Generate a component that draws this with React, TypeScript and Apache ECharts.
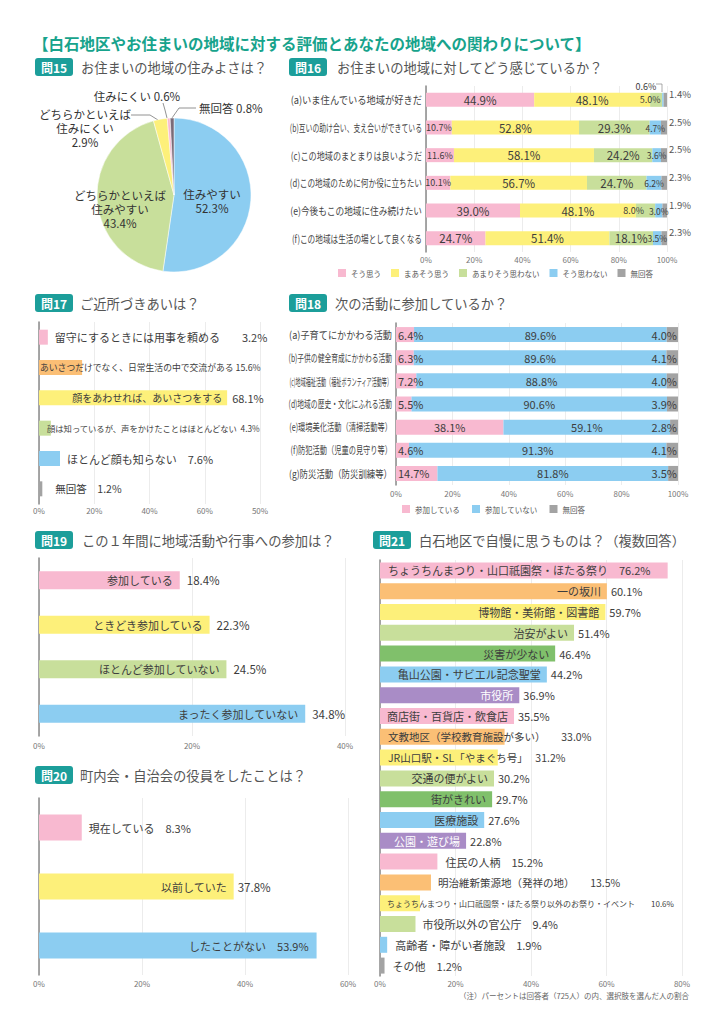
import React, { useEffect, useRef } from "react";
import * as echarts from "echarts";

const FONT = '"Noto Sans CJK JP", "Noto Sans", sans-serif';
const TXT = "#3d3d3d";
const PINK = "#f8b9d0";
const YELLOW = "#fdf07a";
const LGREEN = "#c8df9b";
const BLUE = "#8ccdf1";
const GRAY = "#a3a3a3";
const ORANGE = "#fbbf75";
const GREEN = "#80c06b";
const PURPLE = "#a98cc6";
const DGRAY = "#7a6b78";

// ---------- Q15 ----------
const q15Names = ["住みやすい", "どちらかといえば\n住みやすい", "どちらかといえば\n住みにくい", "住みにくい", "無回答"];
const q15Values = [52.3, 43.4, 2.9, 0.6, 0.8];
const q15Colors = [BLUE, LGREEN, YELLOW, PINK, DGRAY];

// ---------- Q16 ----------
const q16Categories = [
  "(a)いま住んでいる地域が好きだ",
  "(b)互いの助け合い、支え合いができている",
  "(c)この地域のまとまりは良いようだ",
  "(d)この地域のために何か役に立ちたい",
  "(e)今後もこの地域に住み続けたい",
  "(f)この地域は生活の場として良くなる",
];
const q16SeriesNames = ["そう思う", "まあそう思う", "あまりそう思わない", "そう思わない", "無回答"];
const q16Agree = [44.9, 10.7, 11.6, 10.1, 39.0, 24.7];
const q16SomewhatAgree = [48.1, 52.8, 58.1, 56.7, 48.1, 51.4];
const q16SomewhatDisagree = [5.0, 29.3, 24.2, 24.7, 8.0, 18.1];
const q16Disagree = [0.6, 4.7, 3.6, 6.2, 3.0, 3.5];
const q16NoAnswer = [1.4, 2.5, 2.5, 2.3, 1.9, 2.3];

// ---------- Q17 ----------
const q17Categories = [
  "留守にするときには用事を頼める",
  "あいさつだけでなく、日常生活の中で交流がある",
  "顔をあわせれば、あいさつをする",
  "顔は知っているが、声をかけたことはほとんどない",
  "ほとんど顔も知らない",
  "無回答",
];
const q17Values = [3.2, 15.6, 68.1, 4.3, 7.6, 1.2];
const q17Colors = [PINK, ORANGE, YELLOW, LGREEN, BLUE, GRAY];
const q17TickLabels = ["0%", "20%", "40%", "60%", "50%"];

// ---------- Q18 ----------
const q18Categories = [
  "(a)子育てにかかわる活動",
  "(b)子供の健全育成にかかわる活動",
  "(c)地域福祉活動（福祉ボランティア活動等）",
  "(d)地域の歴史・文化にふれる活動",
  "(e)環境美化活動（清掃活動等）",
  "(f)防犯活動（児童の見守り等）",
  "(g)防災活動（防災訓練等）",
];
const q18SeriesNames = ["参加している", "参加していない", "無回答"];
const q18Yes = [6.4, 6.3, 7.2, 5.5, 38.1, 4.6, 14.7];
const q18No = [89.6, 89.6, 88.8, 90.6, 59.1, 91.3, 81.8];
const q18NoAnswer = [4.0, 4.1, 4.0, 3.9, 2.8, 4.1, 3.5];

// ---------- Q19 ----------
const q19Categories = ["参加している", "ときどき参加している", "ほとんど参加していない", "まったく参加していない"];
const q19Values = [18.4, 22.3, 24.5, 34.8];
const q19Colors = [PINK, YELLOW, LGREEN, BLUE];

// ---------- Q20 ----------
const q20Categories = ["現在している", "以前していた", "したことがない"];
const q20Values = [8.3, 37.8, 53.9];
const q20Colors = [PINK, YELLOW, BLUE];

// ---------- Q21 ----------
const q21Categories = [
  "ちょうちんまつり・山口祇園祭・ほたる祭り",
  "一の坂川",
  "博物館・美術館・図書館",
  "治安がよい",
  "災害が少ない",
  "亀山公園・サビエル記念聖堂",
  "市役所",
  "商店街・百貨店・飲食店",
  "文教地区（学校教育施設が多い）",
  "JR山口駅・SL「やまぐち号」",
  "交通の便がよい",
  "街がきれい",
  "医療施設",
  "公園・遊び場",
  "住民の人柄",
  "明治維新策源地（発祥の地）",
  "ちょうちんまつり・山口祇園祭・ほたる祭り以外のお祭り・イベント",
  "市役所以外の官公庁",
  "高齢者・障がい者施設",
  "その他",
];
const q21Values = [76.2, 60.1, 59.7, 51.4, 46.4, 44.2, 36.9, 35.5, 33.0, 31.2, 30.2, 29.7, 27.6, 22.8, 15.2, 13.5, 10.6, 9.4, 1.9, 1.2];
const q21Colors = [PINK, ORANGE, YELLOW, LGREEN, GREEN, BLUE, PURPLE, PINK, ORANGE, YELLOW, LGREEN, GREEN, BLUE, PURPLE, PINK, ORANGE, YELLOW, LGREEN, BLUE, GRAY];

// ---------- layout config ----------
type RowStyle = { mode: "out" | "in" | "left" | "inall"; fs?: number; gap?: string; dist?: number; vdist?: number; vfs?: number; color?: string };

const q17Styles: RowStyle[] = [
  { mode: "out", fs: 11, gap: "　　", dist: 7 },
  { mode: "left", fs: 8.8, gap: " ", dist: 1 },
  { mode: "in", fs: 10, dist: 5, vdist: 5, vfs: 11 },
  { mode: "left", fs: 8.3, gap: "  ", dist: 8 },
  { mode: "out", fs: 11, gap: "　", dist: 7 },
  { mode: "out", fs: 10.5, gap: "　", dist: 13 },
];
const q19Styles: RowStyle[] = q19Values.map(() => ({ mode: "in", fs: 11, dist: 7, vdist: 7, vfs: 11.5 }));
const q20Styles: RowStyle[] = [
  { mode: "out", fs: 11, gap: "　", dist: 7 },
  { mode: "in", fs: 11, dist: 7, vdist: 4, vfs: 11.5 },
  { mode: "inall", fs: 11, gap: "　", dist: 8 },
];
const IN21: RowStyle = { mode: "in", fs: 11, dist: 6, vdist: 4, vfs: 11 };
const q21Styles: RowStyle[] = [
  { mode: "left", fs: 11, gap: "　", dist: 8 },
  IN21, IN21, IN21, IN21, IN21,
  { ...IN21, color: "#ffffff" },
  IN21,
  { mode: "left", fs: 10.5, gap: "　　", dist: 8 },
  { mode: "left", fs: 10.5, gap: "　 ", dist: 8 },
  IN21, IN21, IN21,
  { ...IN21, color: "#ffffff" },
  { mode: "out", fs: 11, gap: "　", dist: 8 },
  { mode: "out", fs: 10.5, gap: "　　", dist: 7 },
  { mode: "left", fs: 8, gap: "　　", dist: 7 },
  { mode: "out", fs: 11, gap: "　", dist: 7 },
  { mode: "out", fs: 11, gap: "　", dist: 8 },
  { mode: "out", fs: 11, gap: "　", dist: 8 },
];

// small-label nudges in Q16 (series index -> row index -> x offset)
const q16GreenOffsets = [-6, 0, 0, 0, -12, 0];

const fmt = (v: number) => v.toFixed(1) + "%";

function measureEm(s: string) {
  let w = 0;
  for (const ch of s) {
    const c = ch.charCodeAt(0);
    if (c < 0x2000) w += ch === "(" || ch === ")" ? 0.34 : 0.56;
    else w += 1;
  }
  return w;
}

function catLabelSeries(gi: number, cats: string[], maxW: number, fs: number) {
  return {
    type: "custom",
    name: "labels" + gi,
    xAxisIndex: gi,
    yAxisIndex: gi,
    silent: true,
    clip: false,
    z: 5,
    data: cats.map((_, i) => [0, i]),
    renderItem: (params: any, api: any) => {
      const p = api.coord([0, api.value(1)]);
      const t = cats[params.dataIndex];
      const w = measureEm(t) * fs;
      const s = maxW / w;
      return {
        type: "text",
        x: p[0] - 4,
        y: p[1],
        scaleX: s,
        style: { text: t, align: "right", verticalAlign: "middle", fontSize: fs, fontFamily: FONT, fill: "#444" },
      };
    },
  };
}

function barPair(gi: number, names: string[], values: number[], colors: string[], styles: RowStyle[], barWidth: number) {
  const aText = values.map((v, i) => {
    const s = styles[i];
    const gap = s.gap ?? "　";
    if (s.mode === "in") return names[i];
    if (s.mode === "inall" || s.mode === "left") return names[i] + gap + fmt(v);
    return "";
  });
  const bText = values.map((v, i) => {
    const s = styles[i];
    const gap = s.gap ?? "　";
    if (s.mode === "in") return fmt(v);
    if (s.mode === "out") return names[i] + gap + fmt(v);
    return "";
  });
  const aData = values.map((v, i) => {
    const s = styles[i];
    let label: any = { show: false };
    if (s.mode === "in" || s.mode === "inall")
      label = { show: true, position: "insideRight", distance: s.dist ?? 6, fontSize: s.fs ?? 11, color: s.color ?? TXT };
    if (s.mode === "left")
      label = { show: true, position: "insideLeft", distance: s.dist ?? 6, fontSize: s.fs ?? 11, color: s.color ?? TXT };
    return { value: v, itemStyle: { color: colors[i] }, label };
  });
  const bData = values.map((v, i) => {
    const s = styles[i];
    let label: any = { show: false };
    if (s.mode === "in") label = { show: true, position: "right", distance: s.vdist ?? 4, fontSize: s.vfs ?? s.fs ?? 11, color: TXT };
    if (s.mode === "out") label = { show: true, position: "right", distance: s.dist ?? 7, fontSize: s.fs ?? 11, color: TXT };
    return { value: v, label };
  });
  return [
    {
      type: "bar",
      name: "bars" + gi,
      xAxisIndex: gi,
      yAxisIndex: gi,
      barWidth,
      barGap: "-100%",
      data: aData,
      label: { show: true, formatter: (p: any) => aText[p.dataIndex] },
    },
    {
      type: "bar",
      name: "vals" + gi,
      xAxisIndex: gi,
      yAxisIndex: gi,
      barWidth,
      barGap: "-100%",
      silent: true,
      itemStyle: { color: "rgba(0,0,0,0)" },
      data: bData,
      label: { show: true, formatter: (p: any) => bText[p.dataIndex] },
    },
  ];
}

function xAx(gi: number, max: number, margin: number, labels?: string[]) {
  return {
    type: "value",
    gridIndex: gi,
    min: 0,
    max,
    interval: 20,
    axisLine: { show: false },
    axisTick: { show: false },
    splitLine: { show: true, lineStyle: { color: "#ececec", width: 1 } },
    axisLabel: {
      fontSize: 8,
      color: "#777",
      margin,
      formatter: labels ? (v: number) => labels[Math.round(v / 20)] : (v: number) => v + "%",
    },
  };
}

function yAx(gi: number, cats: string[]) {
  return {
    type: "category",
    gridIndex: gi,
    data: cats,
    inverse: true,
    axisLine: { show: true, lineStyle: { color: "#8a8a8a", width: 1.5 } },
    axisTick: { show: false },
    axisLabel: { show: false },
    splitLine: { show: false },
  };
}

const grid = (left: number, top: number, width: number, height: number) => ({ left, top, width, height, containLabel: false, outerBoundsMode: "none" });

function header(num: string, title: string, bx: number, cy: number, tx: number) {
  return [
    { type: "rect", shape: { x: bx, y: cy - 9, width: 38, height: 18, r: 3 }, style: { fill: "#1c9e9a" } },
    { type: "text", x: bx + 19, y: cy, style: { text: num, align: "center", verticalAlign: "middle", fontSize: 12, fontWeight: "bold", fontFamily: FONT, fill: "#ffffff" } },
    { type: "text", x: tx, y: cy, style: { text: title, align: "left", verticalAlign: "middle", fontSize: 13.3, fontFamily: FONT, fill: "#555555" } },
  ];
}

const q15LabelPos: any[] = [
  { x: 212, y: 201, align: "center" },
  { x: 120, y: 209, align: "center" },
  { x: 85, y: 128, align: "center", line: [[158, 120], [150, 115], [131, 115]] },
  { x: 137, y: 96, align: "center", line: [[167, 118], [165, 110], [163, 103]] },
  { x: 199, y: 108, align: "left", line: [[172, 118], [179, 108], [196, 108]] },
];

function buildOption() {
  const graphic: any[] = [
    {
      type: "text",
      x: 33,
      y: 43,
      style: {
        text: "【白石地区やお住まいの地域に対する評価とあなたの地域への関わりについて】",
        align: "left",
        verticalAlign: "middle",
        fontSize: 15.5,
        fontWeight: "bold",
        fontFamily: FONT,
        fill: "#17a38c",
      },
    },
    ...header("問15", "お住まいの地域の住みよさは？", 35, 67, 81),
    ...header("問16", "お住まいの地域に対してどう感じているか？", 289, 67, 337),
    ...header("問17", "ご近所づきあいは？", 35, 303, 80),
    ...header("問18", "次の活動に参加しているか？", 289, 303, 335),
    ...header("問19", "この１年間に地域活動や行事への参加は？", 35, 540, 82),
    ...header("問20", "町内会・自治会の役員をしたことは？", 35, 775, 80),
    ...header("問21", "白石地区で自慢に思うものは？（複数回答）", 373, 540, 419),
    {
      type: "text",
      x: 689,
      y: 995,
      style: {
        text: "（注）パーセントは回答者（725人）の内、選択肢を選んだ人の割合",
        align: "right",
        verticalAlign: "middle",
        fontSize: 7.5,
        fontFamily: FONT,
        fill: "#666",
      },
    },
    {
      type: "polyline",
      shape: { points: [[656, 84], [662, 84], [662, 92]] },
      style: { stroke: "#888", lineWidth: 0.7, fill: "none" },
    },
  ];

  const q16Series = [q16Agree, q16SomewhatAgree, q16SomewhatDisagree, q16Disagree, q16NoAnswer].map((arr, si) => {
    const colors = [PINK, YELLOW, LGREEN, BLUE, GRAY];
    const data = arr.map((v, i) => {
      let label: any = { position: "inside", fontSize: 11.5 };
      if (si === 0) label = { position: "inside", fontSize: v >= 20 ? 11.5 : 9 };
      if (si === 2) label = { position: "inside", fontSize: v >= 15 ? 11.5 : 9, offset: [q16GreenOffsets[i], 0] };
      if (si === 3) label = v < 1 ? { position: "top", distance: 1, offset: [-17, -1], fontSize: 9 } : { position: "inside", fontSize: 8.5 };
      if (si === 4) label = { position: "right", distance: 2, offset: [0, -6], fontSize: 9.5, color: "#555" };
      return { value: v, label };
    });
    return {
      type: "bar",
      name: q16SeriesNames[si],
      xAxisIndex: 0,
      yAxisIndex: 0,
      stack: "q16",
      barWidth: 14,
      itemStyle: { color: colors[si] },
      data,
      label: { show: true, color: TXT, formatter: (p: any) => fmt(p.value) },
    };
  });

  const q18Series = [q18Yes, q18No, q18NoAnswer].map((arr, si) => {
    const colors = [PINK, BLUE, GRAY];
    const data = arr.map((v) => {
      let label: any = { position: "inside" };
      if (si === 0) label = v < 20 ? { position: "insideLeft", distance: 2 } : { position: "inside" };
      if (si === 2) label = { position: "insideRight", distance: 1 };
      return { value: v, label };
    });
    return {
      type: "bar",
      name: q18SeriesNames[si],
      xAxisIndex: 1,
      yAxisIndex: 1,
      stack: "q18",
      barWidth: 15,
      itemStyle: { color: colors[si] },
      data,
      label: { show: true, color: TXT, fontSize: 11, formatter: (p: any) => fmt(p.value) },
    };
  });

  const pie = {
    type: "pie",
    name: "q15",
    center: [174, 195],
    radius: 77,
    startAngle: 90,
    clockwise: true,
    avoidLabelOverlap: false,
    itemStyle: { borderColor: "#fff", borderWidth: 0.5 },
    data: q15Values.map((v, i) => ({
      name: q15Names[i],
      value: v,
      itemStyle: { color: q15Colors[i] },
      label: { position: i < 2 ? "inside" : "outside" },
      labelLine: { show: i >= 2 },
    })),
    label: {
      show: true,
      fontSize: 11.5,
      lineHeight: 14,
      color: "#333",
      formatter: (p: any) => (p.dataIndex < 3 ? q15Names[p.dataIndex] + "\n" + fmt(q15Values[p.dataIndex]) : q15Names[p.dataIndex] + " " + fmt(q15Values[p.dataIndex])),
    },
    labelLine: { lineStyle: { color: "#777", width: 0.8 }, length: 8, length2: 8 },
    labelLayout: (p: any) => {
      const pos = q15LabelPos[p.dataIndex];
      const r: any = { x: pos.x, y: pos.y, align: pos.align, verticalAlign: "middle" };
      if (pos.line) r.labelLinePoints = pos.line;
      return r;
    },
  };

  return {
    animation: false,
    backgroundColor: "#ffffff",
    textStyle: { fontFamily: FONT },
    graphic,
    legend: [
      {
        data: q16SeriesNames,
        left: 338,
        top: 269,
        padding: 0,
        itemWidth: 8,
        itemHeight: 8,
        icon: "rect",
        itemGap: 10,
        selectedMode: false,
        textStyle: { fontSize: 7.5, color: "#555" },
      },
      {
        data: q18SeriesNames,
        left: 402,
        top: 505,
        padding: 0,
        itemWidth: 8,
        itemHeight: 8,
        icon: "rect",
        itemGap: 12,
        selectedMode: false,
        textStyle: { fontSize: 7.5, color: "#555" },
      },
    ],
    grid: [
      grid(426, 86, 241, 166), // Q16
      grid(396, 323, 282, 162), // Q18
      grid(39, 322, 221, 182), // Q17
      grid(39, 558, 306, 178), // Q19
      grid(39, 798, 309, 177), // Q20
      grid(380, 560, 302, 416), // Q21
    ],
    xAxis: [xAx(0, 100, 3), xAx(1, 100, 4), xAx(2, 80, 2, q17TickLabels), xAx(3, 40, 5), xAx(4, 60, 4), xAx(5, 80, 3)],
    yAxis: [yAx(0, q16Categories), yAx(1, q18Categories), yAx(2, q17Categories), yAx(3, q19Categories), yAx(4, q20Categories), yAx(5, q21Categories)],
    series: [
      pie,
      ...q16Series,
      catLabelSeries(0, q16Categories, 132, 10.5),
      ...q18Series,
      catLabelSeries(1, q18Categories, 103, 10.5),
      ...barPair(2, q17Categories, q17Values, q17Colors, q17Styles, 15),
      ...barPair(3, q19Categories, q19Values, q19Colors, q19Styles, 18),
      ...barPair(4, q20Categories, q20Values, q20Colors, q20Styles, 26),
      ...barPair(5, q21Categories, q21Values, q21Colors, q21Styles, 16),
    ],
  };
}

export default function App() {
  const ref = useRef<HTMLDivElement>(null);
  useEffect(() => {
    document.body.style.margin = "0";
    const chart = echarts.init(ref.current!, null, { renderer: "svg" });
    chart.setOption(buildOption() as any);
    return () => chart.dispose();
  }, []);
  return <div ref={ref} style={{ width: 724, height: 1024, background: "#fff" }} />;
}
